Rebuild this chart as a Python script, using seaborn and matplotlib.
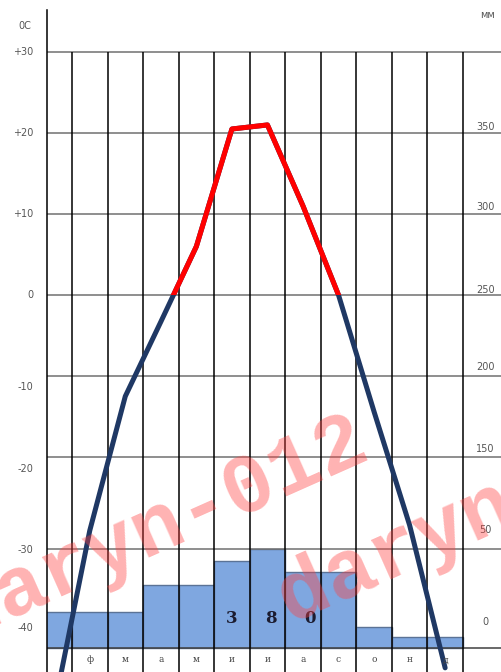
import numpy as np
import pandas as pd
import matplotlib
matplotlib.use('Agg')
import matplotlib.pyplot as plt
import seaborn as sns
from matplotlib.patches import Rectangle

# Data
months = ['январь', 'февраль', 'март', 'апрель', 'май', 'июнь',
          'июль', 'август', 'сентябрь', 'октябрь', 'ноябрь', 'декабрь']
month_labels = ['', 'ф', 'м', 'а', 'м', 'и', 'и', 'а', 'с', 'о', 'н', 'д']
temperature = [-46, -28, -12.5, -3.3, 6, 20.5, 21, 11, 0, -14.4, -27.4, -42]
precipitation = [22, 22, 22, 39, 39, 54, 61, 47, 47, 13, 7, 7]
total_digits = ['3', '8', '0']
temp_lines = [30, 20, 10, 0, -10, -20, -30]
temp_labels = ['+30', '+20', '+10', '0', '-10', '-20', '-30', '-40']
mm_labels = ['350', '300', '250', '200', '150', '50', '0']

df = pd.DataFrame({'month': months, 'pos': np.arange(len(months)),
                   'mm': precipitation, 't': temperature})

# the drawn temperature scale is not quite linear at the bottom
T_NODES = [-60, -40, -30, -20, 40]
P_NODES = [-846, -648, -549, -457, 29]


def fwd(t):
    return np.interp(t, T_NODES, P_NODES)


def inv(v):
    return np.interp(v, P_NODES, T_NODES)


sns.set_style('white')
fig = plt.figure(figsize=(5.02, 6.72), dpi=100)
ax = fig.add_axes([47 / 502, 0, 455 / 502, 662 / 672])
ax.set_yscale('function', functions=(fwd, inv))
ax2 = ax.twinx()
ax.set_zorder(ax2.get_zorder() + 1)
ax.patch.set_visible(False)

# precipitation bars (behind)
sns.barplot(data=df, x='month', y='mm', ax=ax2, width=1.0, color='#7fa7e0',
            saturation=1, edgecolor='#5b7396', linewidth=1)
ax2.set_ylim(-14.8, 393.8)
ax2.set_axis_off()
for d, x in zip(total_digits, [5.0, 6.1, 7.2]):
    ax2.text(x, 18.5, d, ha='center', va='center', fontsize=12,
             fontweight='bold', family='DejaVu Serif', color='#1c1c30')

# grid
for t in temp_lines:
    ax.axhline(t, color='#707070', lw=1.1, zorder=1)
ax.axhline(-40, color='#404040', lw=1.1, zorder=1)
ax.vlines(np.arange(12) + 0.5, -42.42, 30, color='black', lw=1.1, zorder=1)

# temperature curve: navy, red above 0
sns.lineplot(data=df, x='pos', y='t', ax=ax, color='#1f3864', lw=3.6)
sns.lineplot(data=df, x='pos', y='t', ax=ax, color='#ff0000', lw=3.6)
clip = Rectangle((-2, 0), 20, 60, transform=ax.transData)
ax.lines[-1].set_clip_path(clip)

ax.set_xlim(-0.203, 12.6)
ax.set_ylim(-42.42, 35.19)
ax.set_xlabel('')
ax.set_ylabel('')
ax.set_xticks([])
ax.set_yticks([])
for s in ['top', 'right', 'bottom']:
    ax.spines[s].set_visible(False)
ax.spines['left'].set_color('black')
ax.spines['left'].set_linewidth(1.1)

# month labels
for i, m in enumerate(month_labels):
    ax.text(i, -41.2, m, ha='center', va='center', fontsize=6.5,
            family='DejaVu Serif', color='#444444')

# left and right scale labels
ytr = ax.get_yaxis_transform()
temp_label_pos = [30, 20, 10, 0, -11.4, -21.3, -30.1, -38]
for lab, y in zip(temp_labels, temp_label_pos):
    ax.text(-0.03, y, lab, transform=ytr, ha='right', va='center',
            fontsize=7, color='#555555', clip_on=False)
mm_label_pos = [20.7, 10.9, 0.6, -8.9, -19, -27.9, -37.4]
for lab, y in zip(mm_labels, mm_label_pos):
    ax.text(0.963, y, lab, transform=ytr, ha='center', va='center',
            fontsize=7, color='#555555')

fig.text(25 / 502, 1 - 26 / 672, '0С', ha='center', va='center',
         fontsize=7, color='#555555')
fig.text(488 / 502, 1 - 15 / 672, 'мм', ha='center', va='center',
         fontsize=7, color='#555555')

# watermark
fig.text(158 / 502, 1 - 528 / 672, 'daryn-012', rotation=24, ha='center',
         va='center', fontsize=60, family='Liberation Mono', fontweight='bold',
         color='#ff4040', alpha=0.4, zorder=10)
fig.text(290 / 502, 1 - 622 / 672, 'daryn-012', rotation=24, ha='left',
         va='baseline', rotation_mode='anchor', fontsize=60,
         family='Liberation Mono', fontweight='bold',
         color='#ff4040', alpha=0.4, zorder=10)

fig.savefig('out.png', dpi=100)
plt.close(fig)
